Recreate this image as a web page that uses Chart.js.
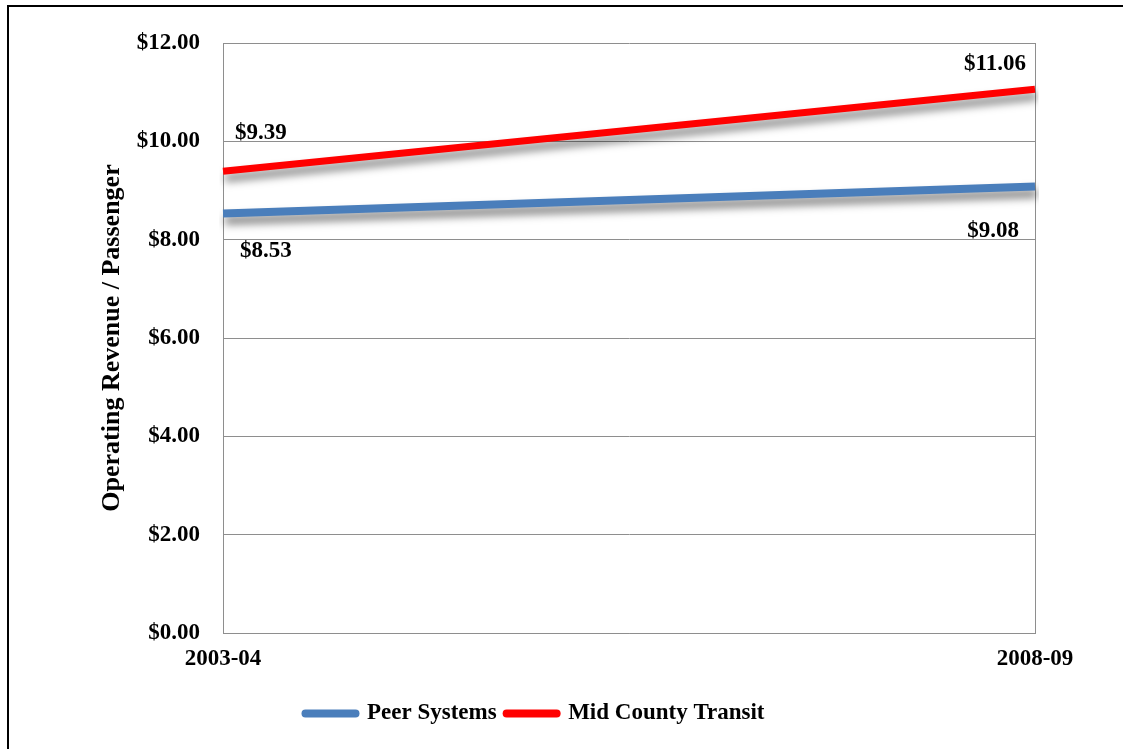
<!DOCTYPE html>
<html>
<head>
<meta charset="utf-8">
<script src="https://cdn.jsdelivr.net/npm/chart.js@4"></script>
<style>
    html, body { margin: 0; padding: 0; background: #fff; }
    #wrap { position: relative; width: 1123px; height: 749px; overflow: hidden; }
    #frame { position: absolute; left: 7px; top: 5px; width: 1130px; height: 760px; border: 2px solid #000; box-sizing: border-box; pointer-events: none; }
    canvas { position: absolute; left: 0; top: 0; }
</style>
</head>
<body>
<div id="wrap">
    <canvas id="chart" width="1123" height="749"></canvas>
    <div id="frame"></div>
</div>
<script>
// 데이터
const years = ['2003-04', '2008-09'];
const peerSystems = [8.53, 9.08];
const midCountyTransit = [9.39, 11.06];
const seriesNames = ['Peer Systems', 'Mid County Transit'];

const serif = '"Liberation Serif", "DejaVu Serif", serif';
const gridGray = '#8e8e8e';

// 선 아래 그림자
const shadowPlugin = {
    id: 'lineShadow',
    beforeDatasetDraw(chart) {
        const ctx = chart.ctx;
        ctx.save();
        ctx.shadowColor = 'rgba(0, 0, 0, 0.5)';
        ctx.shadowBlur = 9;
        ctx.shadowOffsetX = 2;
        ctx.shadowOffsetY = 7;
    },
    afterDatasetDraw(chart) {
        chart.ctx.restore();
    }
};

// 값 라벨
const valueLabels = {
    id: 'valueLabels',
    afterDatasetsDraw(chart, args, opts) {
        const ctx = chart.ctx;
        ctx.save();
        ctx.font = 'bold 23px ' + serif;
        ctx.fillStyle = '#000';
        ctx.textBaseline = 'alphabetic';
        chart.data.datasets.forEach((ds, i) => {
            const meta = chart.getDatasetMeta(i);
            meta.data.forEach((pt, j) => {
                const place = opts.places[i][j];
                ctx.textAlign = place.align;
                ctx.fillText('$' + ds.data[j].toFixed(2), pt.x + place.dx, pt.y + place.dy);
            });
        });
        ctx.restore();
    }
};

new Chart(document.getElementById('chart'), {
    type: 'line',
    data: {
        labels: years,
        datasets: [{
            label: seriesNames[0],
            data: peerSystems,
            borderColor: '#4a7ebb',
            backgroundColor: '#4a7ebb',
            borderWidth: 8,
            pointRadius: 0,
            borderCapStyle: 'butt'
        }, {
            label: seriesNames[1],
            data: midCountyTransit,
            borderColor: '#ff0000',
            backgroundColor: '#ff0000',
            borderWidth: 7,
            pointRadius: 0,
            borderCapStyle: 'butt'
        }]
    },
    options: {
        responsive: false,
        animation: false,
        layout: { padding: { left: 35, right: 88, top: 43, bottom: 14 } },
        plugins: {
            tooltip: { enabled: false },
            legend: {
                position: 'bottom',
                labels: {
                    usePointStyle: true,
                    pointStyle: 'line',
                    pointStyleWidth: 50,
                    padding: 10,
                    color: '#000',
                    font: { family: serif, size: 23, weight: 'bold' },
                    generateLabels(chart) {
                        const items = Chart.defaults.plugins.legend.labels.generateLabels(chart);
                        items.forEach(it => { it.lineCap = 'round'; it.lineWidth = 8; });
                        return items;
                    }
                }
            },
            valueLabels: {
                places: [
                    [{ align: 'left', dx: 17, dy: 43 }, { align: 'right', dx: -16, dy: 50 }],
                    [{ align: 'left', dx: 12, dy: -32 }, { align: 'right', dx: -9, dy: -19 }]
                ]
            }
        },
        scales: {
            x: {
                offset: false,
                grid: { color: gridGray, drawTicks: false },
                border: { color: gridGray },
                ticks: {
                    padding: 12,
                    maxRotation: 0,
                    color: '#000',
                    font: { family: serif, size: 23, weight: 'bold' }
                },
                afterFit(scale) { scale.height = 59; }
            },
            y: {
                min: 0,
                max: 12,
                grid: { color: gridGray, drawTicks: false },
                border: { color: gridGray },
                ticks: {
                    stepSize: 2,
                    padding: 23,
                    color: '#000',
                    font: { family: serif, size: 23, weight: 'bold' },
                    callback: v => '$' + v.toFixed(2)
                },
                title: {
                    display: true,
                    text: 'Operating Revenue / Passenger',
                    color: '#000',
                    padding: { top: 62, bottom: 0 },
                    font: { family: serif, size: 26, weight: 'bold' }
                },
                afterFit(scale) { scale.width = 188; }
            }
        }
    },
    plugins: [shadowPlugin, valueLabels]
});
</script>
</body>
</html>
